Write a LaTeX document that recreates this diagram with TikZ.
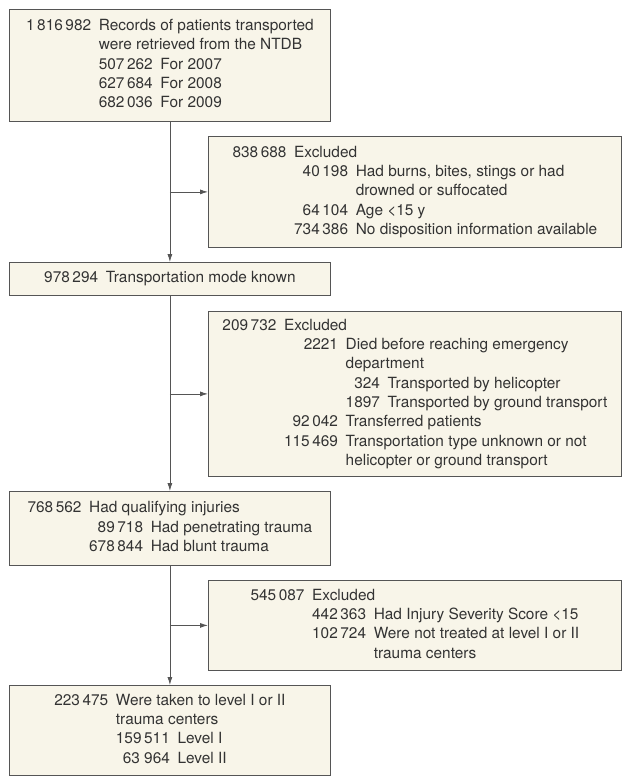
\documentclass[tikz,border=0pt]{standalone}
\usepackage{fontspec}
\setmainfont{TeX Gyre Heros}
\usetikzlibrary{arrows.meta}

\definecolor{boxfill}{HTML}{F8F5E9}
\definecolor{boxline}{HTML}{555555}
\definecolor{textgray}{HTML}{333333}

% number / description columns, nested for sub-items
\newcommand{\flowtab}[1]{\begin{tabular}[t]{@{}r@{\enspace}l@{}}#1\end{tabular}}

\tikzset{
  flowbox/.style={draw=boxline, fill=boxfill, line width=0.8pt, text=textgray,
    inner xsep=4pt, inner ysep=0pt, align=center, anchor=north west,
    font=\fontsize{15.4}{19.3}\selectfont},
  leftbox/.style={flowbox, minimum width=321pt},
  rightbox/.style={flowbox, minimum width=413pt},
  flowline/.style={draw=boxline, line width=0.8pt},
  >={Latex[length=8pt,width=5pt]}
}

\begin{document}
\begin{tikzpicture}[x=1pt, y=-1pt]
            \useasboundingbox (0,0) rectangle (622,777);
            \node[leftbox, minimum height=112pt] (recs) at (9,9) {\flowtab{1\,816\,982 & Records of patients transported\\
              & were retrieved from the NTDB\\
              & \flowtab{507\,262 & For 2007\\ 627\,684 & For 2008\\ 682\,036 & For 2009}}};
            \node[rightbox, minimum height=111pt] (excl1) at (208,136) {\flowtab{838\,688 & Excluded\\
              & \flowtab{40\,198 & Had burns, bites, stings or had\\
                & drowned or suffocated\\
                64\,104 & Age <15 y\\
                734\,386 & No disposition information available}}};
            \node[leftbox, minimum height=33pt] (known) at (9,262) {\flowtab{978\,294 & Transportation mode known}};
            \node[rightbox, minimum height=165pt] (excl2) at (208,311) {\flowtab{209\,732 & Excluded\\
              & \flowtab{2221 & Died before reaching emergency\\
                & department\\
                & \flowtab{324 & Transported by helicopter\\ 1897 & Transported by ground transport}\\
                92\,042 & Transferred patients\\
                115\,469 & Transportation type unknown or not\\
                & helicopter or ground transport}}};
            \node[leftbox, minimum height=74pt] (qual) at (9,491) {\flowtab{768\,562 & Had qualifying injuries\\
              & \flowtab{89\,718 & Had penetrating trauma\\ 678\,844 & Had blunt trauma}}};
            \node[rightbox, minimum height=90pt] (excl3) at (208,580) {\flowtab{545\,087 & Excluded\\
              & \flowtab{442\,363 & Had Injury Severity Score <15\\
                102\,724 & Were not treated at level I or II\\
                & trauma centers}}};
            \node[leftbox, minimum height=90pt] (lvl) at (9,685) {\flowtab{223\,475 & Were taken to level I or II\\
              & trauma centers\\
              & \flowtab{159\,511 & Level I\\ 63 964 & Level II}}};
            % main flow
            \draw[flowline, ->] (recs) -- (known);
            \draw[flowline, ->] (known) -- (qual);
            \draw[flowline, ->] (qual) -- (lvl);
            % exclusions
            \draw[flowline, ->] (recs.south |- excl1.west) -- (excl1.west);
            \draw[flowline, ->] (known.south |- excl2.west) -- (excl2.west);
            \draw[flowline, ->] (qual.south |- excl3.west) -- (excl3.west);
          \end{tikzpicture}
\end{document}
